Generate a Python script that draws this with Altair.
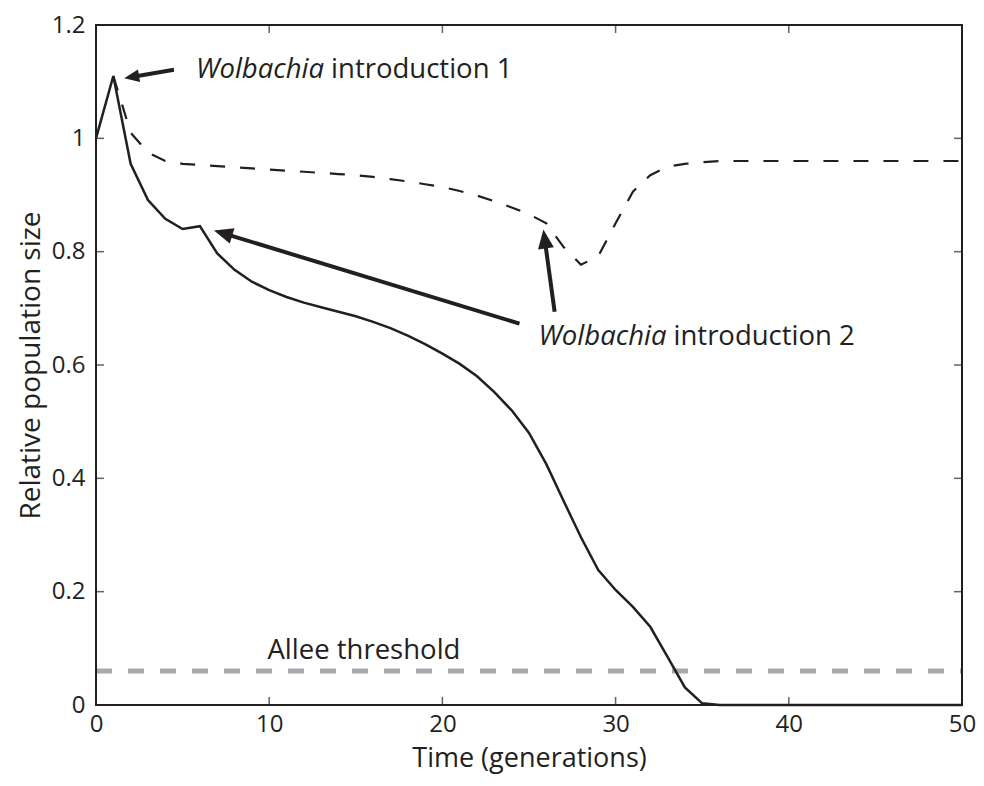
import math
import altair as alt
import pandas as pd

# ---------------- data ----------------
t_solid = [0, 1, 2, 3, 4, 5, 6, 7, 8, 9,
           10, 11, 12, 13, 14, 15, 16, 17, 18, 19,
           20, 21, 22, 23, 24, 25, 26, 27, 28, 29,
           30, 31, 32, 33, 34, 35, 36, 37, 38, 39,
           40, 41, 42, 43, 44, 45, 46, 47, 48, 49, 50]
solid = [1.0, 1.11, 0.955, 0.891, 0.858, 0.84, 0.845, 0.797, 0.768, 0.747,
         0.732, 0.72, 0.71, 0.702, 0.694, 0.686, 0.676, 0.665, 0.652, 0.637,
         0.62, 0.602, 0.58, 0.552, 0.52, 0.48, 0.425, 0.36, 0.296, 0.238,
         0.203, 0.173, 0.138, 0.085, 0.031, 0.003, 0.0, 0.0, 0.0, 0.0,
         0.0, 0.0, 0.0, 0.0, 0.0, 0.0, 0.0, 0.0, 0.0, 0.0, 0.0]

t_dashed = [1, 2, 3, 4, 5, 6, 7, 8, 9,
            10, 11, 12, 13, 14, 15, 16, 17, 18, 19,
            20, 21, 22, 23, 24, 25, 26, 27, 28, 29,
            30, 31, 32, 33, 34, 35, 36, 37, 38, 39,
            40, 41, 42, 43, 44, 45, 46, 47, 48, 49, 50]
dashed = [1.11, 1.01, 0.975, 0.96, 0.955, 0.953, 0.951, 0.949, 0.947,
          0.945, 0.943, 0.941, 0.939, 0.937, 0.935, 0.932, 0.928, 0.924, 0.919,
          0.914, 0.907, 0.899, 0.889, 0.878, 0.866, 0.85, 0.808, 0.777, 0.792,
          0.85, 0.906, 0.935, 0.95, 0.955, 0.958, 0.96, 0.96, 0.96, 0.96,
          0.96, 0.96, 0.96, 0.96, 0.96, 0.96, 0.96, 0.96, 0.96, 0.96, 0.96]

allee_level = 0.06

x_ticks = [0, 10, 20, 30, 40, 50]
y_ticks = [0, 0.2, 0.4, 0.6, 0.8, 1.0, 1.2]

# annotation arrows (tail near the text, tip at the curve)
arrow_tail_t = [4.5, 24.45, 26.48]
arrow_tail_v = [1.121, 0.673, 0.694]
arrow_tip_t = [1.63, 6.81, 25.83]
arrow_tip_v = [1.106, 0.8375, 0.839]
arrow_head_len = [15, 19, 19]

# annotation texts
label_lead = ["Wolbachia", "Wolbachia"]
label_rest = ["introduction 1", "introduction 2"]
label_t = [13.17, 32.94]
label_v = [1.106, 0.636]
allee_text = "Allee threshold"
allee_text_t = 9.9
allee_text_v = 0.082

# ---------------- layout ----------------
W, H = 866, 680
INK = "#231f20"
GREY = "#a7a9ac"
FONT = "Open Sans"

xs = alt.Scale(domain=[0, 50], nice=False, zero=False)
ys = alt.Scale(domain=[0, 1.2], nice=False, zero=False)

x_axis = alt.Axis(values=x_ticks, title="Time (generations)", labelPadding=7,
                  titlePadding=9, labelOverlap=False, labelFlush=False, tickSize=0,
                  titleFontSize=27)
y_axis = alt.Axis(values=y_ticks, title="Relative population size", format=".1~f",
                  labelPadding=11, titlePadding=6, labelOverlap=False,
                  labelFlush=False, tickSize=0)


def X(field):
    return alt.X(field, scale=xs, axis=x_axis)


def Y(field):
    return alt.Y(field, scale=ys, axis=y_axis)


sx = W / 50.0
sy = H / 1.2
rows = []
for i in range(len(arrow_tip_t)):
    dxp = (arrow_tip_t[i] - arrow_tail_t[i]) * sx
    dyp = -(arrow_tip_v[i] - arrow_tail_v[i]) * sy
    L = math.hypot(dxp, dyp)
    ang = math.degrees(math.atan2(dxp, -dyp)) % 360
    back = arrow_head_len[i] * 0.8
    bt = arrow_tip_t[i] - (dxp / L) * back / sx
    bv = arrow_tip_v[i] + (dyp / L) * back / sy
    rows.append(dict(t0=arrow_tail_t[i], v0=arrow_tail_v[i], t1=bt, v1=bv,
                     tt=arrow_tip_t[i], tv=arrow_tip_v[i], ang=ang,
                     sz=(2 * arrow_head_len[i]) ** 2))
arrows = pd.DataFrame(rows)

df_solid = pd.DataFrame({"t": t_solid, "v": solid})
df_dashed = pd.DataFrame({"t": t_dashed, "v": dashed})
df_xt = pd.DataFrame({"v": x_ticks, "lo": [0.0] * len(x_ticks), "hi": [1.2] * len(x_ticks)})
df_yt = pd.DataFrame({"v": y_ticks, "lo": [0.0] * len(y_ticks), "hi": [50.0] * len(y_ticks)})
df_lab = pd.DataFrame({"t": label_t, "v": label_v, "lead": label_lead, "rest": label_rest})
df_allee = pd.DataFrame({"t": [allee_text_t], "v": [allee_text_v], "s": [allee_text],
                         "lvl": [allee_level], "x0": [0.0], "x1": [50.0]})
df_frame = pd.DataFrame({"x0": [0.0], "x1": [50.0], "y0": [0.0], "y1": [1.2]})

frame = alt.Chart(df_frame).mark_rect(fill=None, stroke=INK, strokeWidth=2).encode(
    x=X("x0:Q"), x2="x1:Q", y=Y("y0:Q"), y2="y1:Q")

allee_rule = alt.Chart(df_allee).mark_rule(color=GREY, strokeWidth=5, strokeDash=[16, 16]).encode(
    x=X("x0:Q"), x2="x1:Q", y=Y("lvl:Q"))

solid_line = alt.Chart(df_solid).mark_line(color=INK, strokeWidth=2.5).encode(
    x=X("t:Q"), y=Y("v:Q"))

dashed_line = alt.Chart(df_dashed).mark_line(color=INK, strokeWidth=2.2, strokeDash=[15, 15]).encode(
    x=X("t:Q"), y=Y("v:Q"))

allee_label = alt.Chart(df_allee).mark_text(
    align="left", baseline="alphabetic", font=FONT, fontSize=27.5, color=INK
).encode(x=X("t:Q"), y=Y("v:Q"), text="s:N")

shafts = alt.Chart(arrows).mark_rule(color=INK, strokeWidth=4, strokeCap="butt").encode(
    x=X("t0:Q"), y=Y("v0:Q"), x2="t1:Q", y2="v1:Q")

heads = alt.Chart(arrows).mark_point(
    shape="M0,0L0.42,1L-0.42,1Z", filled=True, opacity=1, color=INK, strokeWidth=0
).encode(
    x=X("tt:Q"), y=Y("tv:Q"),
    angle=alt.Angle("ang:Q", scale=None), size=alt.Size("sz:Q", scale=None),
)

lead_text = alt.Chart(df_lab).mark_text(
    align="right", baseline="alphabetic", font=FONT, fontSize=27.5, fontStyle="italic", color=INK
).encode(x=X("t:Q"), y=Y("v:Q"), text="lead:N")

rest_text = alt.Chart(df_lab).mark_text(
    align="left", baseline="alphabetic", font=FONT, fontSize=27.5, color=INK, dx=7
).encode(x=X("t:Q"), y=Y("v:Q"), text="rest:N")

tick_kw = dict(color=INK, thickness=1.5, size=8)
xt_bottom = alt.Chart(df_xt).mark_tick(orient="vertical", yOffset=-4, **tick_kw).encode(
    x=X("v:Q"), y=Y("lo:Q"))
xt_top = alt.Chart(df_xt).mark_tick(orient="vertical", yOffset=4, **tick_kw).encode(
    x=X("v:Q"), y=Y("hi:Q"))
yt_left = alt.Chart(df_yt).mark_tick(orient="horizontal", xOffset=4, **tick_kw).encode(
    y=Y("v:Q"), x=X("lo:Q"))
yt_right = alt.Chart(df_yt).mark_tick(orient="horizontal", xOffset=-4, **tick_kw).encode(
    y=Y("v:Q"), x=X("hi:Q"))

chart = alt.layer(
    allee_rule, solid_line, dashed_line, allee_label, shafts, heads, lead_text, rest_text,
    xt_bottom, xt_top, yt_left, yt_right, frame,
).properties(
    width=W, height=H,
    autosize=alt.AutoSizeParams(type="none"),
    padding={"left": 88, "top": 17, "right": 14, "bottom": 73},
).configure(
    background="white",
).configure_view(
    stroke=None,
).configure_axis(
    domain=False, ticks=False, grid=False,
    labelFont=FONT, labelFontSize=24, labelColor=INK,
    titleFont=FONT, titleFontSize=28, titleColor=INK, titleFontWeight="normal",
)

chart.save("out.html", embed_options={"renderer": "svg", "actions": False})
